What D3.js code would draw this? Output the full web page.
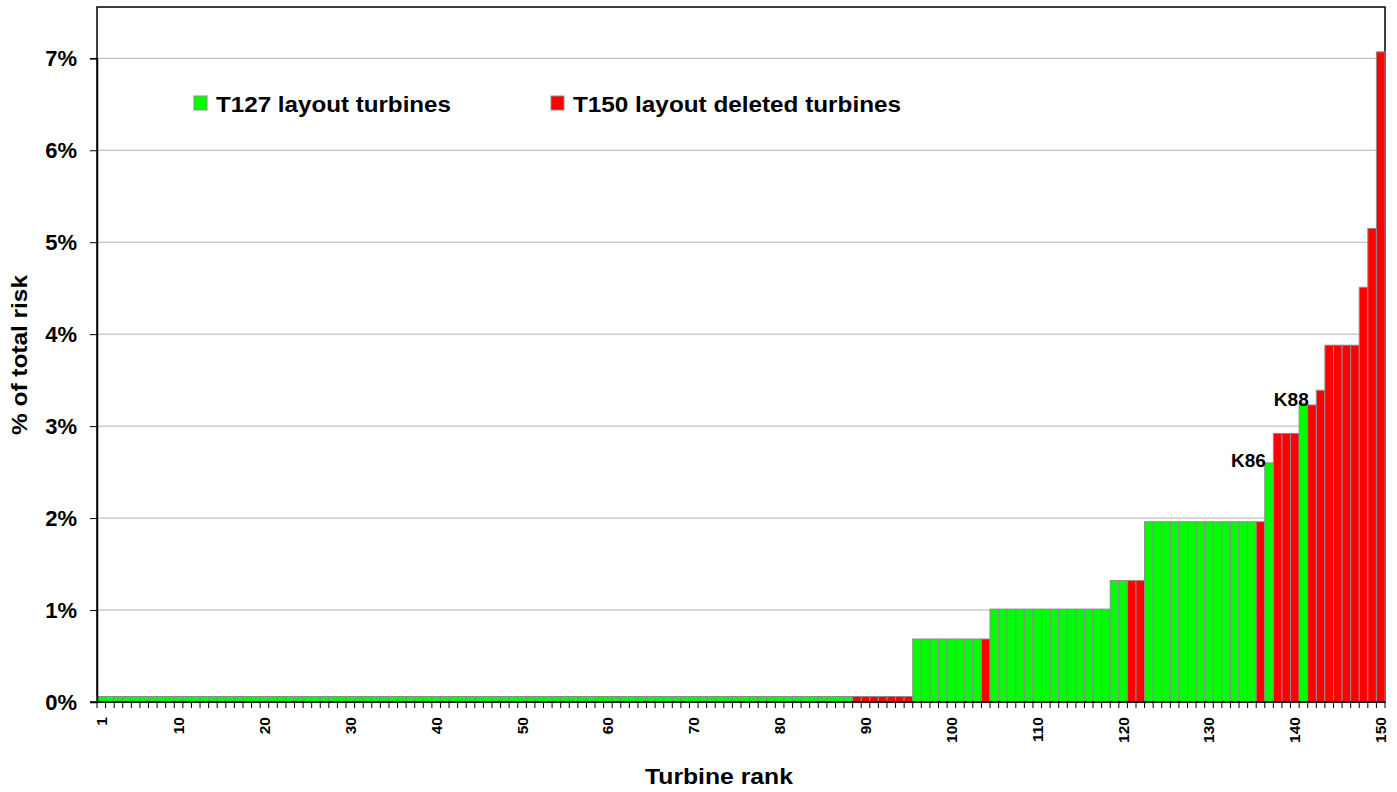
<!DOCTYPE html>
<html><head><meta charset="utf-8">
<script src="https://cdn.jsdelivr.net/npm/d3@7/dist/d3.min.js"></script>
<style>
body{margin:0;background:#fff;}
text{font-family:"Liberation Sans",Arial,sans-serif;font-weight:bold;}
</style></head>
<body>
<svg id="chart" width="1397" height="792"></svg>
<script>
// ---- data ----
const ranks = d3.range(1, 151);
// % of total risk for each turbine rank (1..150)
const lowValue = 0.06;
const riskValues = [].concat(
  Array(95).fill(lowValue),          // ranks 1-95
  Array(9).fill(0.685),              // ranks 96-104
  Array(14).fill(1.01),              // ranks 105-118
  Array(4).fill(1.32),               // ranks 119-122
  Array(14).fill(1.96),              // ranks 123-136
  [2.60, 2.92, 2.92, 2.92, 3.25, 3.23, 3.39, 3.88, 3.88, 3.88, 3.88, 4.51, 5.15, 7.07] // 137-150
);
// layout group: "T127" = kept (green), "T150" = deleted (red)
const deletedRanks = [89,90,91,92,93,94,95,104,121,122,136,138,139,140,142,143,144,145,146,147,148,149,150];
const seriesNames = ["T127 layout turbines", "T150 layout deleted turbines"];
const seriesColors = ["#00ff00", "#ff0000"];
const yTicks = [0,1,2,3,4,5,6,7];
const xTickLabels = [1,10,20,30,40,50,60,70,80,90,100,110,120,130,140,150];
const annotations = [{rank:137, label:"K86"}, {rank:141, label:"K88"}];
const xTitle = "Turbine rank";
const yTitle = "% of total risk";

// ---- chart ----
const svg = d3.select("#chart");
const m = {left:97, top:7, right:1385, bottom:702};
const x = d3.scaleBand().domain(ranks).range([m.left, m.right]).padding(0);
const y = d3.scaleLinear().domain([0, 7]).range([m.bottom, 58.3]);
const yTop = m.top;

const data = ranks.map((r,i)=>({rank:r, value:riskValues[i], group: deletedRanks.includes(r)?1:0}));

// gridlines
svg.append("g").selectAll("line").data(yTicks.filter(t=>t>0)).join("line")
  .attr("x1", m.left).attr("x2", m.right)
  .attr("y1", d=>y(d)).attr("y2", d=>y(d))
  .attr("stroke", "#b3b3b3").attr("stroke-width", 1);

// frame
svg.append("rect").attr("x", m.left).attr("y", yTop)
  .attr("width", m.right-m.left).attr("height", m.bottom-yTop)
  .attr("fill","none").attr("stroke","#000").attr("stroke-width",1.5);

// bars
svg.append("g").selectAll("rect").data(data).join("rect")
  .attr("x", d=>x(d.rank)).attr("width", x.bandwidth())
  .attr("y", d=>y(d.value)).attr("height", d=>y(0)-y(d.value))
  .attr("fill", d=>seriesColors[d.group])
  .attr("stroke", "#8c8c8c").attr("stroke-width", 1);

// y axis
const yAxis = svg.append("g").attr("transform", `translate(${m.left},0)`)
  .call(d3.axisLeft(y).tickValues(yTicks).tickFormat(d=>d+"%").tickSize(7).tickPadding(13));
yAxis.select(".domain").attr("stroke","#000").attr("stroke-width",1.5);
yAxis.selectAll(".tick line").attr("stroke","#000");
yAxis.selectAll(".tick text").attr("font-size", "22px").attr("fill","#000")
  .attr("font-family","Liberation Sans, Arial, sans-serif").attr("font-weight","bold");

// x axis: ticks at category boundaries
const boundaries = d3.range(0, 151).map(i => m.left + i*x.bandwidth());
svg.append("line").attr("x1", m.left-7).attr("x2", m.right).attr("y1", m.bottom).attr("y2", m.bottom)
  .attr("stroke","#000").attr("stroke-width",1.5);
svg.append("g").selectAll("line").data(boundaries).join("line")
  .attr("x1", d=>d).attr("x2", d=>d).attr("y1", m.bottom).attr("y2", m.bottom+6)
  .attr("stroke","#000").attr("stroke-width",1);
svg.append("g").selectAll("text").data(xTickLabels).join("text")
  .attr("transform", d=>`translate(${x(d)+x.bandwidth()/2+5.5},${m.bottom+15}) rotate(-90)`)
  .attr("text-anchor","end").attr("font-size","15.5px").attr("fill","#000")
  .text(d=>d);

// axis titles
svg.append("text").attr("x", 719).attr("y", 784)
  .attr("text-anchor","middle").attr("font-size","22px")
  .attr("textLength", 148).attr("lengthAdjust","spacingAndGlyphs").text(xTitle);
svg.append("text").attr("transform", `translate(27,355) rotate(-90)`)
  .attr("text-anchor","middle").attr("font-size","22px")
  .attr("textLength", 160).attr("lengthAdjust","spacingAndGlyphs").text(yTitle);

// legend
const legendX = [194, 551];
const legendLen = [235, 328];
const lg = svg.append("g").selectAll("g").data(seriesNames).join("g")
  .attr("transform", (d,i)=>`translate(${legendX[i]},96)`);
lg.append("rect").attr("width",13).attr("height",14)
  .attr("fill",(d,i)=>seriesColors[i]).attr("stroke","#8c8c8c").attr("stroke-width",1);
lg.append("text").attr("x",22).attr("y",15.5).attr("font-size","22px")
  .attr("textLength",(d,i)=>legendLen[i]).attr("lengthAdjust","spacingAndGlyphs").text(d=>d);

// annotations
svg.append("g").selectAll("text").data(annotations).join("text")
  .attr("x", (d,i)=> i===0 ? x(d.rank)+1 : x(d.rank)+x.bandwidth()+1)
  .attr("y", d=>y(riskValues[d.rank-1])+ (d.rank===137?4:3))
  .attr("text-anchor","end").attr("font-size","19px").text(d=>d.label);
</script>
</body></html>
